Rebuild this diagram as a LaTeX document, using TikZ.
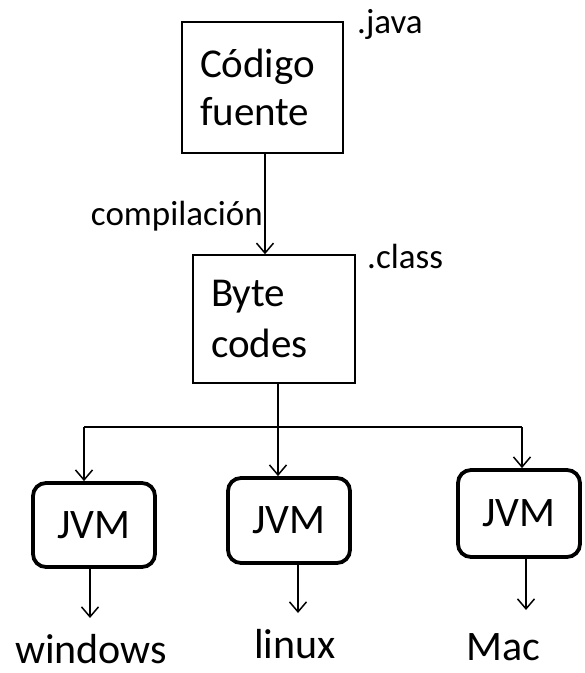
\documentclass[tikz,border=0pt]{standalone}
\usepackage{fontspec}
\setmainfont{Carlito}
\usetikzlibrary{arrows.meta}
\begin{document}
\begin{tikzpicture}[x=1pt,y=-1pt,
  txt/.style={font=\fontsize{42}{46}\selectfont, inner sep=0pt},
  lbl/.style={font=\fontsize{35}{40}\selectfont, inner sep=0pt},
  sqbox/.style={draw, line width=1.5pt, align=left, inner ysep=0pt},
  jvm/.style={draw, line width=3.8pt, rounded corners=13pt, font=\fontsize{42}{46}\selectfont, minimum width=122pt, inner sep=0pt},
  arr/.style={line width=1.5pt, -{Straight Barb[length=10pt,width=17pt,line width=1.5pt]}},
  ln/.style={line width=1.5pt}]
\useasboundingbox (0,0) rectangle (585,673);
\node[sqbox, font=\fontsize{41}{48}\selectfont, text width=125pt, inner xsep=18pt, minimum height=131pt] (src) at (262.5,87.5) {Código\\fuente};
\node[sqbox, font=\fontsize{41}{51}\selectfont, text width=126pt, inner xsep=18pt, minimum height=128pt] (bc) at (274,319) {Byte\\codes};
\node[lbl, anchor=base west] (java) at (357,33) {.java};
\node[lbl, anchor=base west] (class) at (367,268) {.class};
\node[lbl, anchor=base east] (comp) at (263,225) {compilación};
\node[jvm, minimum height=84pt] (j1) at (94,525) {JVM};
\node[jvm, minimum height=85pt] (j2) at (289,520.5) {JVM};
\node[jvm, minimum height=87pt] (j3) at (519,513.5) {JVM};
\node[txt, anchor=base] (w) at (91,663) {windows};
\node[txt, anchor=base] (l) at (295,658) {linux};
\node[txt, anchor=base] (m) at (503,660) {Mac};
\coordinate (split) at (278,427);
\coordinate (hl) at (84,427);
\coordinate (hr) at (522,427);
\coordinate (t1) at (90,618);
\coordinate (t2) at (298,613);
\coordinate (t3) at (526,610);
\draw[arr] (src.south -| 265,0) -- (bc.north -| 265,0);
\draw[ln] (bc.south -| split) -- (split);
\draw[ln] (hl) -- (hr);
\draw[arr] (hl) -- (hl |- j1.north);
\draw[arr] (split) -- (split |- j2.north);
\draw[arr] (hr) -- (hr |- j3.north);
\draw[arr] (j1.south -| t1) -- (t1);
\draw[arr] (j2.south -| t2) -- (t2);
\draw[arr] (j3.south -| t3) -- (t3);
\end{tikzpicture}
\end{document}
